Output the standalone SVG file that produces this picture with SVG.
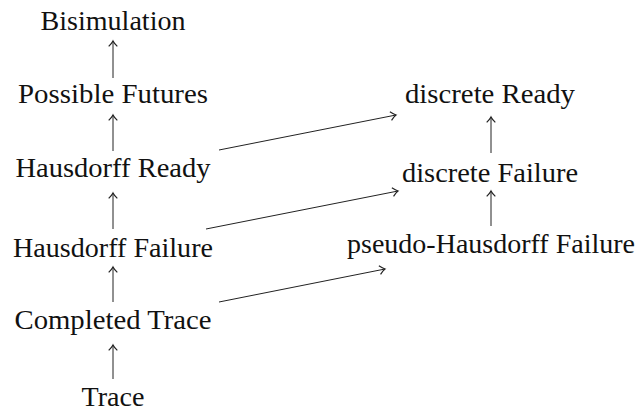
<svg xmlns="http://www.w3.org/2000/svg" width="638" height="413" viewBox="0 0 638 413">
<style>
text{font-family:"Liberation Serif","DejaVu Serif",serif;font-size:27px;fill:#111;text-anchor:middle}
.c line{stroke:#222;stroke-width:1;fill:none;marker-end:url(#ar)}
</style>
<defs>
<marker id="ar" markerWidth="12" markerHeight="12" refX="0" refY="0" viewBox="-8 -5 10 10" orient="auto" markerUnits="userSpaceOnUse">
<path d="M-4.5,-3.6 Q-1.5,-0.7 0,0 Q-1.5,0.7 -4.5,3.6" fill="none" stroke="#222" stroke-width="1"/>
</marker>
</defs>
<rect width="638" height="413" fill="#fff"/>
<g id="bisim"><text x="113" y="30" textLength="145" lengthAdjust="spacingAndGlyphs">Bisimulation</text></g>
<g id="possfut"><text x="113" y="103" textLength="190" lengthAdjust="spacingAndGlyphs">Possible Futures</text></g>
<g id="hready"><text x="113" y="177" textLength="195" lengthAdjust="spacingAndGlyphs">Hausdorff Ready</text></g>
<g id="hfail"><text x="113" y="257" textLength="200" lengthAdjust="spacingAndGlyphs">Hausdorff Failure</text></g>
<g id="ctrace"><text x="113" y="329" textLength="197" lengthAdjust="spacingAndGlyphs">Completed Trace</text></g>
<g id="trace"><text x="113" y="406" textLength="63" lengthAdjust="spacingAndGlyphs">Trace</text></g>
<g id="dready"><text x="490" y="103" textLength="170" lengthAdjust="spacingAndGlyphs">discrete Ready</text></g>
<g id="dfail"><text x="490" y="182" textLength="176" lengthAdjust="spacingAndGlyphs">discrete Failure</text></g>
<g id="phfail"><text x="491" y="253" textLength="288" lengthAdjust="spacingAndGlyphs">pseudo-Hausdorff Failure</text></g>
<g id="connectors" class="c">
<line x1="113" y1="78" x2="113" y2="41"/>
<line x1="113" y1="151" x2="113" y2="115"/>
<line x1="113" y1="229" x2="113" y2="193"/>
<line x1="113" y1="302" x2="113" y2="267"/>
<line x1="113" y1="379" x2="113" y2="345"/>
<line x1="491" y1="153" x2="491" y2="117"/>
<line x1="491" y1="226" x2="491" y2="191"/>
<line x1="219" y1="150" x2="396" y2="115"/>
<line x1="206" y1="229" x2="398" y2="191"/>
<line x1="219" y1="302" x2="385" y2="269"/>
</g>
</svg>
